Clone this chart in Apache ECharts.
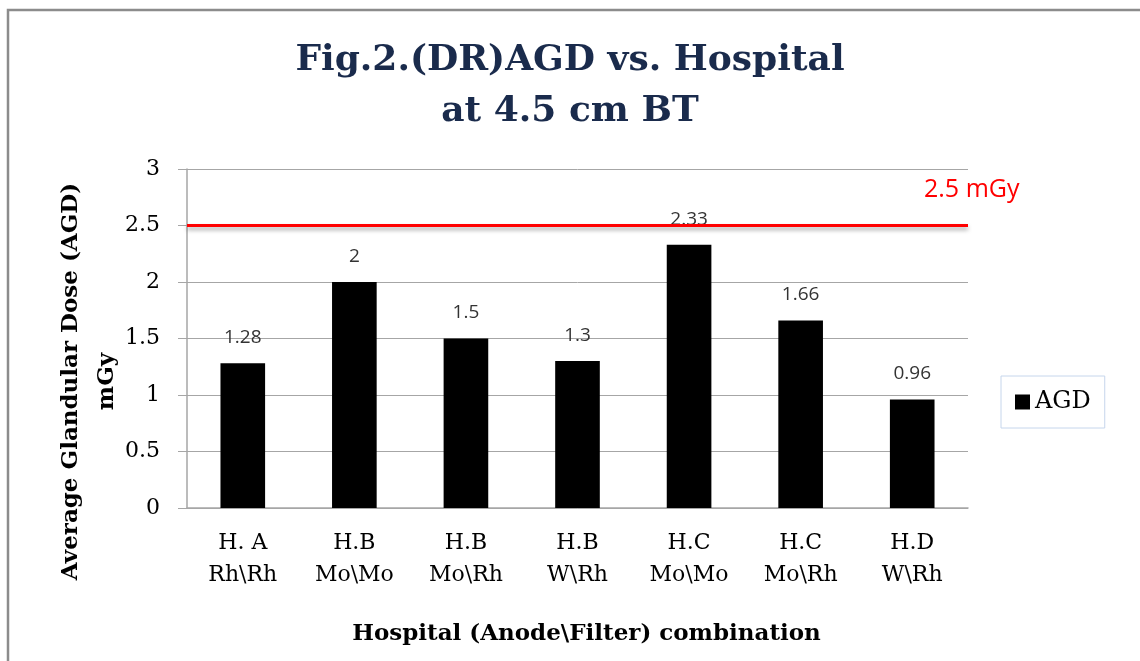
<!DOCTYPE html>
<html>
<head>
<meta charset="utf-8">
<script src="https://cdn.jsdelivr.net/npm/echarts@6/dist/echarts.min.js"></script>
<style>
html,body{margin:0;padding:0;background:#fff;overflow:hidden;}
#chart{width:1140px;height:661px;}
</style>
</head>
<body>
<div id="chart"></div>
<script>
const categories = ['H. A\nRh\\Rh', 'H.B\nMo\\Mo', 'H.B\nMo\\Rh', 'H.B\nW\\Rh', 'H.C\nMo\\Mo', 'H.C\nMo\\Rh', 'H.D\nW\\Rh'];
const agdValues = [1.28, 2, 1.5, 1.3, 2.33, 1.66, 0.96];
const limitValue = 2.5;
const yTicks = [0, 0.5, 1, 1.5, 2, 2.5, 3];

const serif = '"DejaVu Serif", "Liberation Serif", serif';
const chart = echarts.init(document.getElementById('chart'), null, {renderer: 'canvas'});
chart.setOption({
  backgroundColor: '#ffffff',
  animation: false,
  title: {
    text: 'Fig.2.(DR)AGD vs. Hospital\nat 4.5 cm BT',
    left: 'center',
    top: 30,
    textStyle: {fontFamily: serif, fontWeight: 'bold', fontSize: 36, lineHeight: 51, color: '#1a2b4c'}
  },
  legend: {
    data: ['AGD'],
    left: 1001,
    top: 376,
    orient: 'vertical',
    padding: [14, 14, 14, 14],
    borderColor: '#c6d6ec',
    borderWidth: 1,
    icon: 'rect',
    itemWidth: 15,
    itemHeight: 15,
    itemGap: 4,
    textStyle: {fontFamily: serif, fontSize: 24, color: '#000'}
  },
  grid: {left: 187, right: 172, top: 169, bottom: 153, containLabel: false},
  xAxis: {
    type: 'category',
    data: categories,
    name: 'Hospital (Anode\\Filter) combination',
    nameLocation: 'middle',
    nameGap: 115,
    nameMoveOverlap: false,
    nameTextStyle: {fontFamily: serif, fontWeight: 'bold', fontSize: 23, color: '#000', padding: [0, 0, 0, 18]},
    axisLine: {show: true, lineStyle: {color: '#a6a6a6', width: 1.5}},
    axisTick: {show: false},
    axisLabel: {fontFamily: serif, fontSize: 22, lineHeight: 32, color: '#000', margin: 19, interval: 0}
  },
  yAxis: {
    type: 'value',
    min: 0,
    max: 3,
    interval: 0.5,
    name: 'Average Glandular Dose (AGD)\nmGy',
    nameLocation: 'middle',
    nameGap: 62,
    nameMoveOverlap: false,
    nameTextStyle: {fontFamily: serif, fontWeight: 'bold', fontSize: 23, lineHeight: 36, color: '#000', padding: [0, 86, 0, 0]},
    axisLine: {show: true, lineStyle: {color: '#a6a6a6', width: 1.5}},
    axisTick: {show: true, inside: false, length: 9, lineStyle: {color: '#a6a6a6'}},
    splitLine: {show: true, lineStyle: {color: '#a6a6a6', width: 1}},
    axisLabel: {
      fontFamily: serif, fontSize: 22, color: '#000', margin: 27,
      formatter: function (v) { return yTicks.indexOf(v) >= 0 ? String(v) : ''; }
    }
  },
  series: [{
    name: 'AGD',
    type: 'bar',
    data: agdValues,
    barWidth: '40%',
    itemStyle: {color: '#000000'},
    label: {
      show: true,
      position: 'top',
      distance: 16,
      fontFamily: '"Open Sans", "Liberation Sans", sans-serif',
      fontSize: 19,
      color: '#333333'
    },
    markLine: {
      silent: true,
      symbol: 'none',
      data: [{yAxis: limitValue}],
      label: {show: false},
      lineStyle: {color: '#ff0000', width: 3, type: 'solid', shadowColor: 'rgba(0,0,0,0.35)', shadowBlur: 4, shadowOffsetY: 3}
    }
  }],
  graphic: [
    {
      type: 'polyline',
      shape: {points: [[8, 661], [8, 10], [1140, 10]]},
      style: {fill: 'none', stroke: '#8c8c8c', lineWidth: 2.5},
      silent: true
    },
    {
      type: 'text',
      left: 924,
      top: 177,
      style: {text: limitValue + ' mGy', fill: '#ff0000', font: '25px "Open Sans", "Liberation Sans", sans-serif'}
    }
  ]
});
</script>
</body>
</html>
